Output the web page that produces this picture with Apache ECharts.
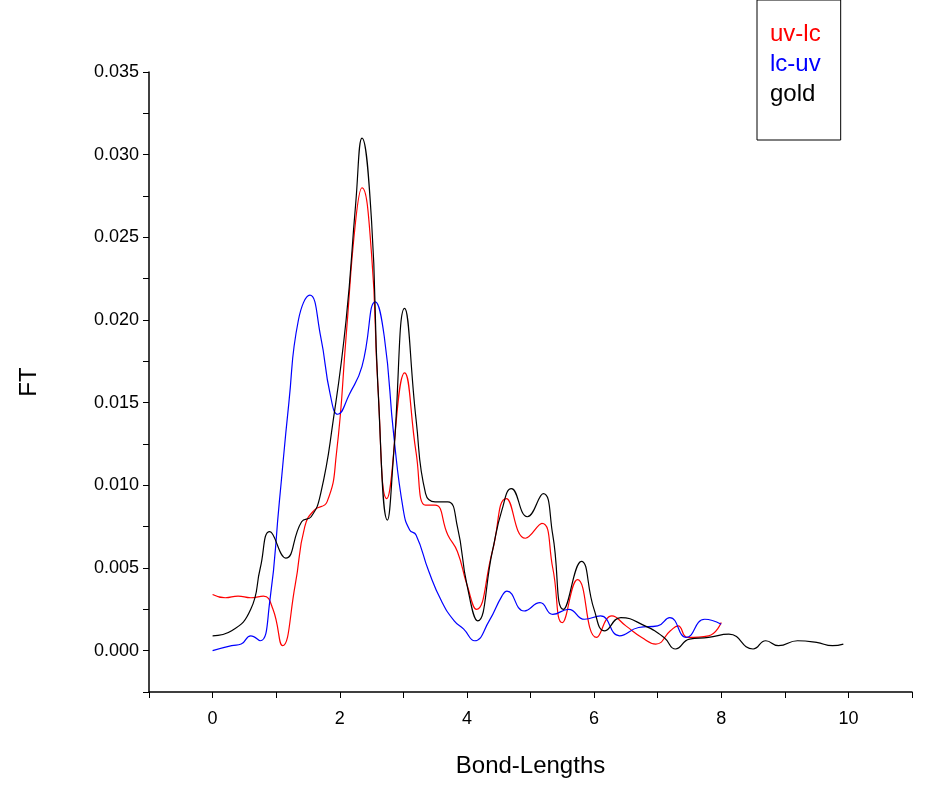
<!DOCTYPE html><html><head><meta charset="utf-8">
<script src="https://cdn.jsdelivr.net/npm/echarts@6/dist/echarts.min.js"></script>
<style>body{margin:0}#c{width:931px;height:808px}</style></head><body><div id="c"></div>
<script>
const goldX=[0,0.3,0.6,0.75,0.9,1.15,1.4,1.55,1.7,1.9,2.1,2.25,2.35,2.5,2.6,2.75,2.85,3.02,3.2,3.35,3.5,3.7,3.85,4.0,4.17,4.4,4.55,4.7,4.95,5.2,5.35,5.52,5.8,6.0,6.17,6.42,6.8,7.1,7.28,7.5,7.8,8.12,8.5,8.7,8.9,9.2,9.5,9.75,9.92];
const goldY=[0.0009,0.0012,0.0025,0.005,0.0072,0.0056,0.0078,0.0081,0.0095,0.014,0.020,0.027,0.031,0.026,0.016,0.0079,0.012,0.0207,0.014,0.0095,0.009,0.009,0.0075,0.004,0.0018,0.006,0.0085,0.0098,0.0081,0.0095,0.007,0.0025,0.0054,0.0025,0.0012,0.002,0.0015,0.0008,0.0001,0.0007,0.0008,0.001,0.0001,0.0006,0.0003,0.0006,0.0005,0.0003,0.0004];
const uvX=[0,0.2,0.4,0.6,0.8,0.95,1.1,1.3,1.45,1.6,1.8,1.95,2.1,2.25,2.35,2.5,2.6,2.74,3.02,3.2,3.35,3.5,3.7,3.85,4.0,4.15,4.4,4.62,4.92,5.18,5.35,5.5,5.74,6.04,6.28,6.5,6.75,6.97,7.2,7.32,7.47,7.8,8.0];
const uvY=[0.0034,0.0032,0.0033,0.0032,0.0033,0.0025,0.0003,0.004,0.0075,0.0085,0.009,0.012,0.019,0.026,0.028,0.024,0.016,0.0092,0.0168,0.012,0.0088,0.0088,0.007,0.006,0.004,0.0025,0.006,0.0092,0.0068,0.0077,0.005,0.0017,0.0043,0.0008,0.0021,0.0015,0.0008,0.0004,0.0012,0.0015,0.0008,0.0009,0.0017];
const lcX=[0,0.3,0.45,0.6,0.75,0.9,1.05,1.2,1.35,1.53,1.7,1.85,1.97,2.15,2.35,2.56,2.7,2.85,3.0,3.1,3.2,3.4,3.6,3.8,3.95,4.12,4.35,4.55,4.63,4.9,5.15,5.35,5.6,5.85,6.1,6.4,6.7,7.0,7.19,7.45,7.74,8.0];
const lcY=[0,0.0003,0.0004,0.0009,0.0006,0.003,0.009,0.015,0.020,0.0215,0.019,0.0155,0.0143,0.0155,0.0172,0.0211,0.019,0.013,0.0085,0.0073,0.007,0.0048,0.003,0.0018,0.0013,0.0006,0.0018,0.0033,0.0036,0.0024,0.0029,0.0022,0.0025,0.0019,0.0021,0.0009,0.0014,0.0015,0.002,0.0008,0.0019,0.0016];
const zip=(a,b)=>a.map((x,i)=>[x,b[i]]);
const F='Liberation Sans, Arial, sans-serif';
const mk=(name,c,x,y)=>({name,type:'line',data:zip(x,y),smooth:0.5,showSymbol:false,lineStyle:{color:c,width:1.2},itemStyle:{color:c}});
const chart=echarts.init(document.getElementById('c'));
chart.setOption({animation:false,
grid:{left:149,right:19,top:72,bottom:116},
legend:{orient:'vertical',left:757,top:0,itemWidth:0,itemHeight:0,icon:'rect',itemGap:6,padding:[22,20,34,8],borderColor:'#000',borderWidth:1,
 data:[{name:'uv-lc',textStyle:{color:'#f00'}},{name:'lc-uv',textStyle:{color:'#00f'}},{name:'gold',textStyle:{color:'#000'}}],
 textStyle:{fontSize:24,fontFamily:F}},
xAxis:{type:'value',min:-1,max:11,interval:1,name:'Bond-Lengths',nameLocation:'middle',nameGap:62,nameTextStyle:{fontSize:24,fontFamily:F,color:'#000'},
 axisLine:{onZero:false,lineStyle:{color:'#000',width:1.5}},axisTick:{inside:false,length:6,lineStyle:{color:'#000'}},splitLine:{show:false},
 axisLabel:{fontSize:18,fontFamily:F,color:'#000',margin:18,formatter:v=>(v>=0&&v<=10&&v%2===0)?String(v):''}},
yAxis:{type:'value',min:-0.0025,max:0.035,interval:0.0025,name:'FT',nameLocation:'middle',nameGap:108,nameTextStyle:{fontSize:24,fontFamily:F,color:'#000'},
 axisLine:{show:true,onZero:false,lineStyle:{color:'#000',width:1.5}},axisTick:{show:true,length:6,lineStyle:{color:'#000'}},splitLine:{show:false},
 axisLabel:{fontSize:18,fontFamily:F,color:'#000',margin:10,formatter:v=>{const k=Math.round(v/0.0025);return (k>=0&&k%2===0)?(k*0.0025).toFixed(3):'';}}},
series:[mk('uv-lc','#f00',uvX,uvY),mk('lc-uv','#00f',lcX,lcY),mk('gold','#000',goldX,goldY)]
});
</script></body></html>
